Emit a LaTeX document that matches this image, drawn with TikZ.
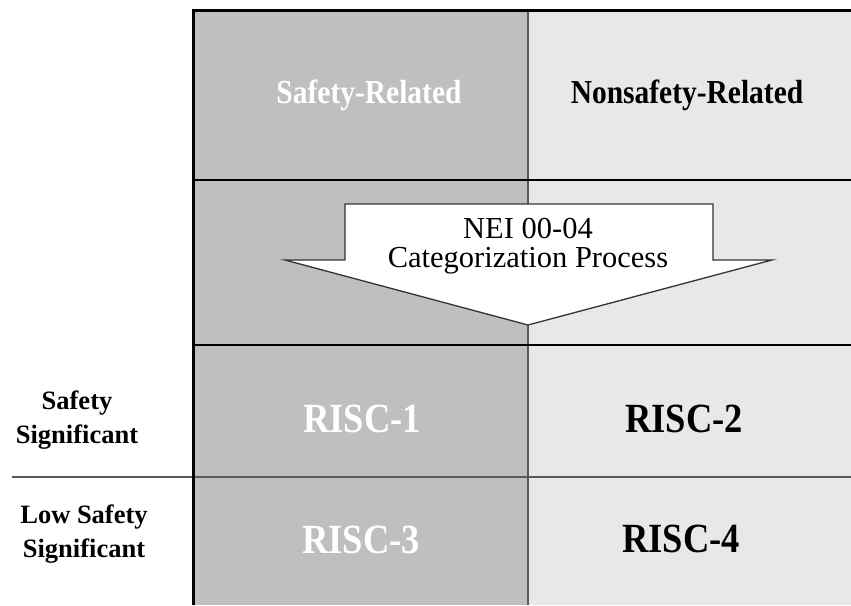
\documentclass[tikz,border=0pt]{standalone}
\usepackage{fontspec}
\setmainfont{Liberation Serif}
\newfontfamily\narrowserif[FakeStretch=0.88]{Liberation Serif}
\usepackage{tikz}
\usetikzlibrary{positioning}
\definecolor{srgray}{HTML}{BFBFBF}
\definecolor{nsrgray}{HTML}{E8E8E8}
\tikzset{
  headtext/.style={font=\narrowserif\bfseries\fontsize{33.5}{33.5}\selectfont, inner sep=0pt},
  risctext/.style={font=\narrowserif\bfseries\fontsize{41.5}{41.5}\selectfont, inner sep=0pt},
  sidetext/.style={font=\bfseries\fontsize{26.5}{34}\selectfont, align=center, inner sep=0pt},
  gridline/.style={line width=2.2pt, black},
  splitline/.style={line width=1.6pt, black!65},
}

\begin{document}
\begin{tikzpicture}[x=1pt,y=-1pt]
\useasboundingbox (0,0) rectangle (851,605);
% the two columns
\fill[srgray] (193,10) rectangle (528,605);
\fill[nsrgray] (528,10) rectangle (851,605);
\draw[splitline] (528,10) -- (528,605);
\draw[splitline] (12,477) -- (851,477);
\draw[gridline] (193,180) -- (851,180);
\draw[gridline] (193,345) -- (851,345);
\draw[line width=3pt] (851,10) -- (193,10) -- (193,605);
% arrow
\draw[fill=white, line width=1.3pt, draw=black!80, line join=miter]
  (345,204) -- (713,204) -- (713,260) -- (772,260) -- (528,325)
  -- (285,260) -- (345,260) -- cycle;
\node[font=\fontsize{30.5}{29}\selectfont, align=center, inner sep=0pt]
  (catproc) at (528,246) {NEI 00-04\\Categorization Process};
% headings
\node[headtext, white, anchor=base] (srhead) at (369,103) {Safety-Related};
\node[headtext, anchor=base] (nsrhead) at (687,103) {Nonsafety-Related};
% cells
\node[risctext, white, anchor=base] (risc1) at (362,432) {RISC-1};
\node[risctext, anchor=base] (risc2) at (684,432) {RISC-2};
\node[risctext, white, anchor=base] (risc3) at (361,553) {RISC-3};
\node[risctext, anchor=base] (risc4) at (681,552) {RISC-4};
% row labels
\node[sidetext] (sigrow) at (77,420) {Safety\\Significant};
\node[sidetext] (lowrow) at (84,534) {Low Safety\\Significant};
\end{tikzpicture}
\end{document}
